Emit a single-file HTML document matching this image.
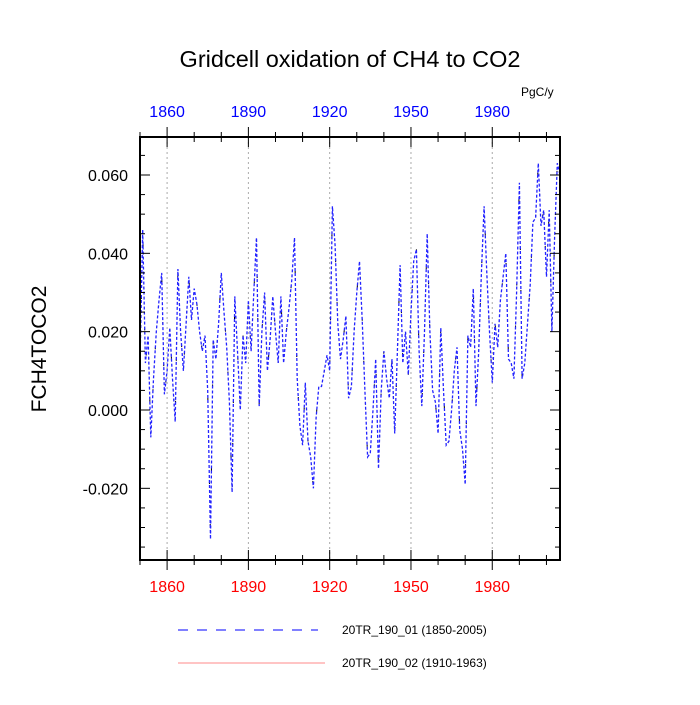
<!DOCTYPE html>
<html><head><meta charset="utf-8"><style>
body{margin:0;background:#fff;width:700px;height:700px;overflow:hidden}
text{font-family:"Liberation Sans",sans-serif}
</style></head><body>
<svg id="chart" width="700" height="700" xmlns="http://www.w3.org/2000/svg">
<text x="350" y="67" text-anchor="middle" font-size="23.5">Gridcell oxidation of CH4 to CO2</text>
<text x="521" y="96" font-size="12">PgC/y</text>
<text transform="translate(46,349) rotate(-90)" text-anchor="middle" font-size="21">FCH4TOCO2</text>
<g id="grid"></g><g id="series"></g><g id="axes"></g>
<g>
<line x1="178" y1="630" x2="318" y2="630" stroke="#00f" stroke-width="1" stroke-dasharray="10 9"/>
<text x="342" y="634" font-size="12">20TR_190_01 (1850-2005)</text>
<line x1="178" y1="663" x2="325" y2="663" stroke="#f88" stroke-width="1"/>
<text x="342" y="667" font-size="12">20TR_190_02 (1910-1963)</text>
</g>
</svg>
<script>
const startYear = 1850;
const values = [0.012,0.046,0.012,0.019,-0.007,0.008,0.020,0.028,0.035,0.004,
0.010,0.021,0.008,-0.003,0.036,0.020,0.010,0.022,0.034,0.023,
0.031,0.027,0.020,0.015,0.019,0.005,-0.033,0.018,0.013,0.022,
0.035,0.025,0.016,0.002,-0.021,0.029,0.015,0.000,0.019,0.012,
0.028,0.015,0.030,0.044,0.001,0.020,0.030,0.010,0.018,0.029,
0.020,0.012,0.029,0.012,0.020,0.026,0.033,0.044,0.008,-0.004,
-0.009,0.007,-0.008,-0.012,-0.020,-0.002,0.006,0.006,0.010,0.014,
0.010,0.052,0.042,0.022,0.013,0.018,0.024,0.003,0.006,0.020,
0.030,0.038,0.023,0.005,-0.012,-0.011,0.000,0.013,-0.015,0.005,
0.015,0.008,0.003,0.013,-0.006,0.015,0.037,0.012,0.020,0.009,
0.025,0.038,0.041,0.015,0.001,0.020,0.045,0.020,0.005,0.002,
-0.006,0.021,0.005,-0.009,-0.008,0.000,0.010,0.016,-0.005,-0.010,
-0.019,0.019,0.016,0.031,0.001,0.015,0.035,0.052,0.035,0.020,
0.007,0.022,0.016,0.028,0.034,0.040,0.013,0.012,0.008,0.030,
0.058,0.008,0.012,0.022,0.032,0.048,0.049,0.063,0.047,0.051,
0.034,0.051,0.020,0.044,0.063,0.060];
const yTicks = [-0.02,0.0,0.02,0.04,0.06];
const yTickLabels = ["-0.020","0.000","0.020","0.040","0.060"];
const xTicks = [1860,1890,1920,1950,1980];
const xTickLabels = ["1860","1890","1920","1950","1980"];

const L=140,R=560,T=137,B=560,X0=1850,X1=2005,Y0=-0.0383,Y1=0.0697;
const sx=v=>L+(v-X0)*(R-L)/(X1-X0);
const sy=v=>B-(v-Y0)*(B-T)/(Y1-Y0);
const NS="http://www.w3.org/2000/svg";
function mk(tag,attrs,parent){const e=document.createElementNS(NS,tag);for(const k in attrs)e.setAttribute(k,attrs[k]);parent.appendChild(e);return e;}
const grid=document.getElementById('grid'),ser=document.getElementById('series'),ax=document.getElementById('axes');
xTicks.forEach(t=>{const g=mk('line',{x1:sx(t),x2:sx(t),y1:T,y2:B,stroke:'#aaa','stroke-dasharray':'2 3'},grid);

});
const pts=values.map((v,i)=>sx(startYear+i).toFixed(1)+','+sy(v).toFixed(1)).join(' ');
const cp=mk('clipPath',{id:'clip'},ser);mk('rect',{x:L,y:T,width:R-L,height:B-T},cp);
const l1=mk('polyline',{points:pts,fill:'none',stroke:'#000','stroke-width':1,'stroke-dasharray':'2 40','stroke-dashoffset':20,'clip-path':'url(#clip)'},ser);


const l2=mk('polyline',{points:pts,fill:'none',stroke:'#22f','stroke-width':1.3,'stroke-dasharray':'3 2','clip-path':'url(#clip)'},ser);


const fr=mk('rect',{x:L,y:T,width:R-L,height:B-T,fill:'none',stroke:'#000','stroke-width':2},ax);


for(let y=1850;y<=2005;y+=10){const maj=xTicks.includes(y);const len=maj?10:5;
mk('line',{x1:sx(y),x2:sx(y),y1:B,y2:B-len,stroke:'#000'},ax);mk('line',{x1:sx(y),x2:sx(y),y1:T,y2:T+len,stroke:'#000'},ax);
mk('line',{x1:sx(y),x2:sx(y),y1:B,y2:B+len,stroke:'#000'},ax);mk('line',{x1:sx(y),x2:sx(y),y1:T,y2:T-len,stroke:'#000'},ax);}
for(let k=-7;k<=13;k++){const v=k*0.005;const maj=k%4===0;const len=maj?10:5;
mk('line',{x1:L,x2:L+len,y1:sy(v),y2:sy(v),stroke:'#000'},ax);mk('line',{x1:R,x2:R-len,y1:sy(v),y2:sy(v),stroke:'#000'},ax);}
xTicks.forEach((t,i)=>{
const a=mk('text',{x:sx(t),y:592,'text-anchor':'middle','font-size':16,fill:'#f00'},ax);a.textContent=xTickLabels[i];


const b=mk('text',{x:sx(t),y:117,'text-anchor':'middle','font-size':16,fill:'#00f'},ax);b.textContent=xTickLabels[i];

});
yTicks.forEach((t,i)=>{const a=mk('text',{x:128,y:sy(t)+6,'text-anchor':'end','font-size':16},ax);a.textContent=yTickLabels[i];

});
</script>
</body></html>
